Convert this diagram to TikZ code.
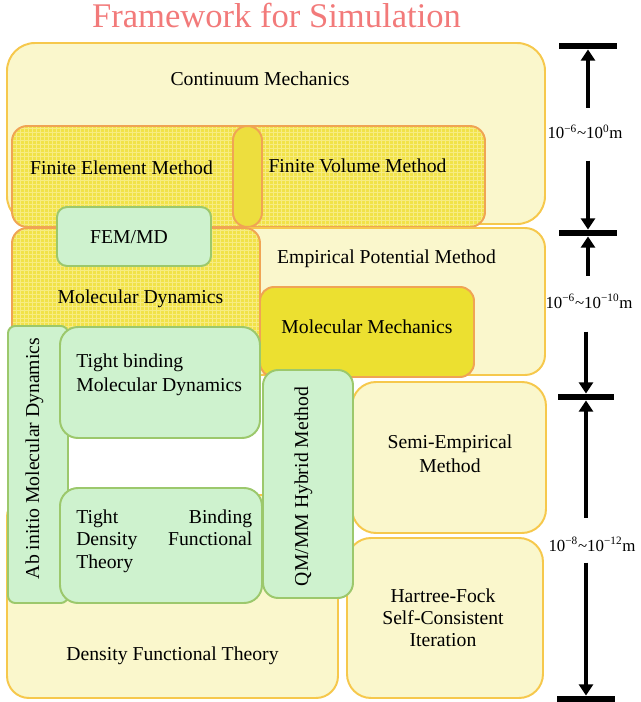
\documentclass[tikz,border=0pt]{standalone}
\usepackage{fontspec}
\setmainfont{Liberation Serif}
\usetikzlibrary{arrows.meta, positioning, fit}
\definecolor{PaleYellow}{RGB}{250,247,204}
\definecolor{GoldEdge}{RGB}{246,200,76}
\definecolor{MeshYellow}{RGB}{241,226,72}
\definecolor{MeshLine}{RGB}{247,236,130}
\definecolor{OverlapYellow}{RGB}{237,222,62}
\definecolor{DeepYellow}{RGB}{236,224,48}
\definecolor{OrangeEdge}{RGB}{240,164,84}
\definecolor{MintGreen}{RGB}{206,242,206}
\definecolor{LeafGreen}{RGB}{156,200,108}
\definecolor{Salmon}{RGB}{242,122,122}

\begin{document}
\begin{tikzpicture}[
    x=0.025cm, y=-0.025cm,
    every node/.style={inner sep=0pt},
    panelbox/.style={draw=GoldEdge, fill=PaleYellow, line width=1.4pt},
    meshbox/.style={draw=OrangeEdge, fill=MeshYellow, line width=1.4pt,
        path picture={\draw[MeshLine, line width=0.3pt, step=0.1cm]
            (path picture bounding box.south west) grid (path picture bounding box.north east);}},
    mechbox/.style={draw=OrangeEdge, fill=DeepYellow, line width=1.4pt},
    leafbox/.style={draw=LeafGreen, fill=MintGreen, line width=1.4pt},
    txt/.style={font=\fontsize{14}{17}\selectfont},
    scaletxt/.style={font=\fontsize{12}{14}\selectfont},
    barline/.style={fill=black, minimum height=4.5pt},
    dimarrow/.style={-{Triangle[width=10pt, length=8pt]}, line width=3.5pt},
]
\useasboundingbox (0,0) rectangle (640,702);

\node[txt, font=\fontsize{24.6}{28}\selectfont, text=Salmon, anchor=base] (title) at (276.5,28) {Framework for Simulation};

% continuum scale
\node[panelbox, rounded corners=0.7cm, fit={(7,43) (545,224)}] (cont) {};
\node[meshbox, rounded corners=0.38cm, fit={(12,126) (262,227)}] (fem) {};
\node[meshbox, rounded corners=0.38cm, fit={(233,126) (485,227)}] (fvm) {};
\node[mechbox, fill=OverlapYellow, rounded corners=0.36cm, fit={(233,126) (262,227)}] (fefv) {};

\node[txt, anchor=base] (contlbl) at (260,86) {Continuum Mechanics};
\node[txt, anchor=base] (femlbl) at (121.5,174) {Finite Element Method};
\node[txt, anchor=base] (fvmlbl) at (357.5,173) {Finite Volume Method};

% atomistic scale
\node[panelbox, rounded corners=0.5cm, fit={(200,228) (545,375)}] (emp) {};
\node[meshbox, rounded corners=0.38cm, fit={(12,228) (260,360)}] (md) {};
\node[mechbox, rounded corners=0.35cm, fit={(260,287) (474,377)}] (mm) {};
\node[leafbox, rounded corners=0.25cm, fit={(57,207) (211,266)}] (femmd) {};

\node[txt, anchor=base] (femmdlbl) at (129,243) {FEM/MD};
\node[txt, anchor=base] (mdlbl) at (140.5,303) {Molecular Dynamics};
\node[txt, anchor=base] (emplbl) at (386.5,263) {Empirical Potential Method};
\node[txt, anchor=base] (mmlbl) at (367,333) {Molecular Mechanics};

% quantum scale
\node[panelbox, rounded corners=0.55cm, fit={(7,495) (338,698)}] (dft) {};
\node[panelbox, rounded corners=0.6cm, fit={(352,382) (546,533)}] (semi) {};
\node[panelbox, rounded corners=0.6cm, fit={(347,538) (543,698)}] (hf) {};
\node[leafbox, rounded corners=0.18cm, fit={(8,326) (68,603)}] (aimd) {};
\node[leafbox, rounded corners=0.45cm, fit={(60,327) (260,438)}] (tbmd) {};
\node[leafbox, rounded corners=0.45cm, fit={(60,488) (262,603)}] (tbdft) {};
\node[leafbox, rounded corners=0.38cm, fit={(263,370) (353,598)}] (qmmm) {};

\node[txt, rotate=90] (aimdlbl) at (34.5,458.5) {Ab initio Molecular Dynamics};
\node[txt, align=left, anchor=west] (tbmdlbl) at (76,375) {Tight binding\\Molecular Dynamics};
\node[txt, font=\fontsize{14}{16}\selectfont, align=left, text width=4.4cm, anchor=west] (tbdftlbl) at (76,541)
    {Tight\hfill Binding\\Density\hfill Functional\\Theory};
\node[txt, rotate=90] (qmmmlbl) at (303.5,486.5) {QM/MM Hybrid Method};
\node[txt, anchor=base] (dftlbl) at (172.5,660) {Density Functional Theory};
\node[txt, align=center] (semilbl) at (450,453.5) {Semi-Empirical\\Method};
\node[txt, font=\fontsize{14}{15.6}\selectfont, align=center] (hflbl) at (443,618) {Hartree-Fock\\Self-Consistent\\Iteration};

% length scale bar
\node[barline, minimum width=1.45cm] (b1) at (588,46) {};
\node[barline, minimum width=1.43cm] (b2) at (588,233) {};
\node[barline, minimum width=1.4cm] (b3) at (586,397) {};
\node[barline, minimum width=1.43cm] (b4) at (586,699) {};

\node[scaletxt, anchor=base] (l1) at (585,139) {10\textsuperscript{−6}\textasciitilde10\textsuperscript{0}m};
\node[scaletxt, anchor=base] (l2) at (589,308) {10\textsuperscript{−6}\textasciitilde10\textsuperscript{−10}m};
\node[scaletxt, anchor=base] (l3) at (592,551) {10\textsuperscript{−8}\textasciitilde10\textsuperscript{−12}m};

\draw[dimarrow, shorten <=12.5pt] (l1.north -| b1) -- (b1.south);
\draw[dimarrow, shorten <=15pt] (l1.south -| b2) -- (b2.north);
\draw[dimarrow, shorten <=13pt] (l2.north -| b2) -- (b2.south);
\draw[dimarrow, shorten <=16.4pt] (l2.south -| b3) -- (b3.north);
\draw[dimarrow, shorten <=13.8pt] (l3.north -| b3) -- (b3.south);
\draw[dimarrow, shorten <=8pt] (l3.south -| b4) -- (b4.north);

\end{tikzpicture}
\end{document}
